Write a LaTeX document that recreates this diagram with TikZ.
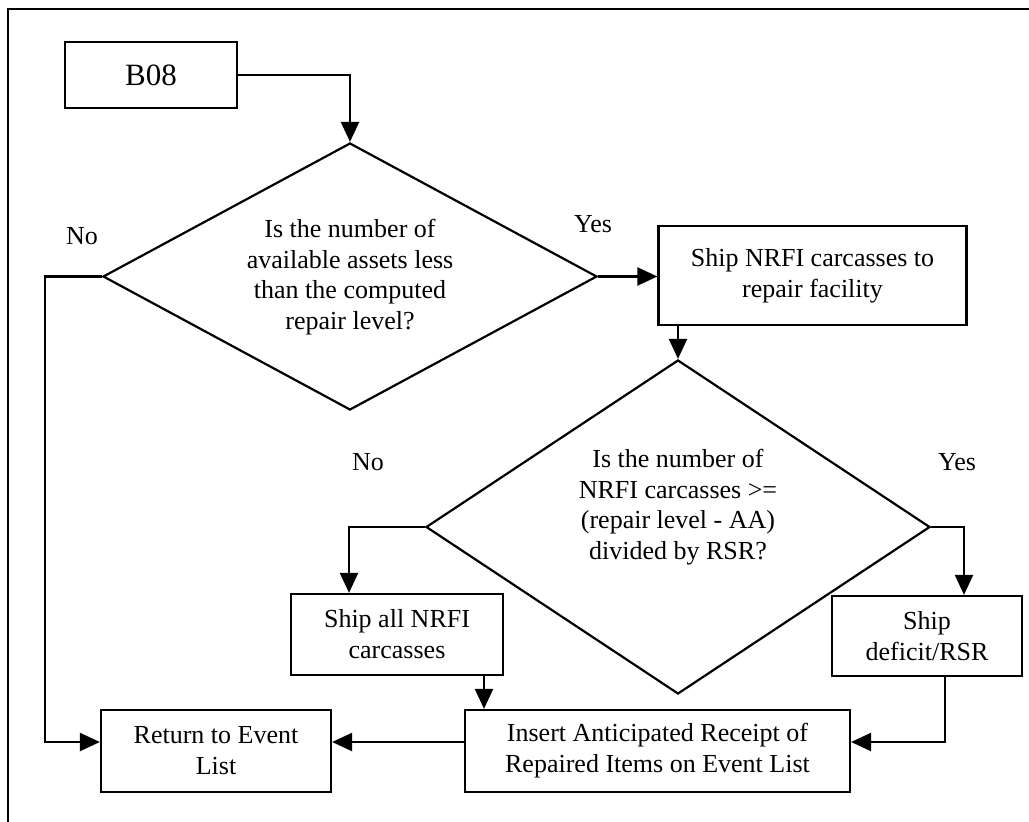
\documentclass[tikz,border=0pt]{standalone}
\usepackage{fontspec}
\setmainfont{Liberation Serif}
\usetikzlibrary{shapes.geometric,arrows.meta}
\tikzset{
  ln/.style={line width=2.2pt},
  box/.style={ln, draw, rectangle, inner sep=0pt, align=center, font=\fontsize{26}{31}\selectfont},
  dia/.style={ln, draw, diamond, inner sep=0pt},
  txt/.style={inner sep=0pt, align=center, font=\fontsize{26}{30.5}\selectfont},
  arr/.style={ln, -{Triangle[length=20pt,width=18pt]}}
}
\begin{document}
\begin{tikzpicture}[x=1pt,y=-1pt]
\useasboundingbox (0,0) rectangle (1029,822);
% frame
\draw[ln] (8,822) -- (8,9) -- (1029,9);
% nodes
\node[box, minimum width=172pt, minimum height=66pt, font=\fontsize{31}{36}\selectfont] (b08) at (151,75) {B08};
\node[dia, minimum width=494pt, minimum height=267pt] (d1) at (350,276.5) {};
\node[txt] (d1t) at (350,277)
  {Is the number of\\available assets less\\than the computed\\repair level?};
\node[box, minimum width=308pt, minimum height=99pt] (ship1) at (812.5,275.5)
  {Ship NRFI carcasses to\\repair facility};
\node[dia, minimum width=504pt, minimum height=334pt] (d2) at (678,527) {};
\node[txt] (d2t) at (678,507)
  {Is the number of\\NRFI carcasses >=\\(repair level - AA)\\divided by RSR?};
\node[box, minimum width=212pt, minimum height=81pt] (shipall) at (397,634.5)
  {Ship all NRFI\\carcasses};
\node[box, minimum width=190pt, minimum height=80pt] (shipdef) at (927,636)
  {Ship\\deficit/RSR};
\node[box, minimum width=385pt, minimum height=82pt] (ins) at (657.5,751)
  {Insert Anticipated Receipt of\\Repaired Items on Event List};
\node[box, minimum width=230pt, minimum height=82pt] (ret) at (216,751)
  {Return to Event\\List};
% labels
\node[txt] (no1) at (82,236) {No};
\node[txt] (yes1) at (593,224) {Yes};
\node[txt] (no2) at (368,462) {No};
\node[txt] (yes2) at (957,462) {Yes};
% bend coordinates
\coordinate (c3x) at (45,0);
\coordinate (c3) at (d1.west -| c3x);
\coordinate (c5) at (349,527);
\coordinate (c6) at (964,527);
\coordinate (c7) at (484,0);
\coordinate (c8) at (945,0);
% connectors
\draw[arr] (b08.east) -| (d1.north);
\draw[arr] (d1.east) -- (d1.east -| ship1.west);
\draw[arr] (d1.west) -- (c3) |- ([yshift=9pt]ret.west);
\draw[arr] (ship1.south -| d2.north) -- (d2.north);
\draw[arr] (d2.west) -- (c5) -- (c5 |- shipall.north);
\draw[arr] (d2.east) -- (c6) -- (c6 |- shipdef.north);
\draw[arr] (shipall.south -| c7) -- (ins.north -| c7);
\draw[arr] (shipdef.south -| c8) |- ([yshift=9pt]ins.east);
\draw[arr] ([yshift=9pt]ins.west) -- ([yshift=9pt]ret.east);
\end{tikzpicture}
\end{document}
